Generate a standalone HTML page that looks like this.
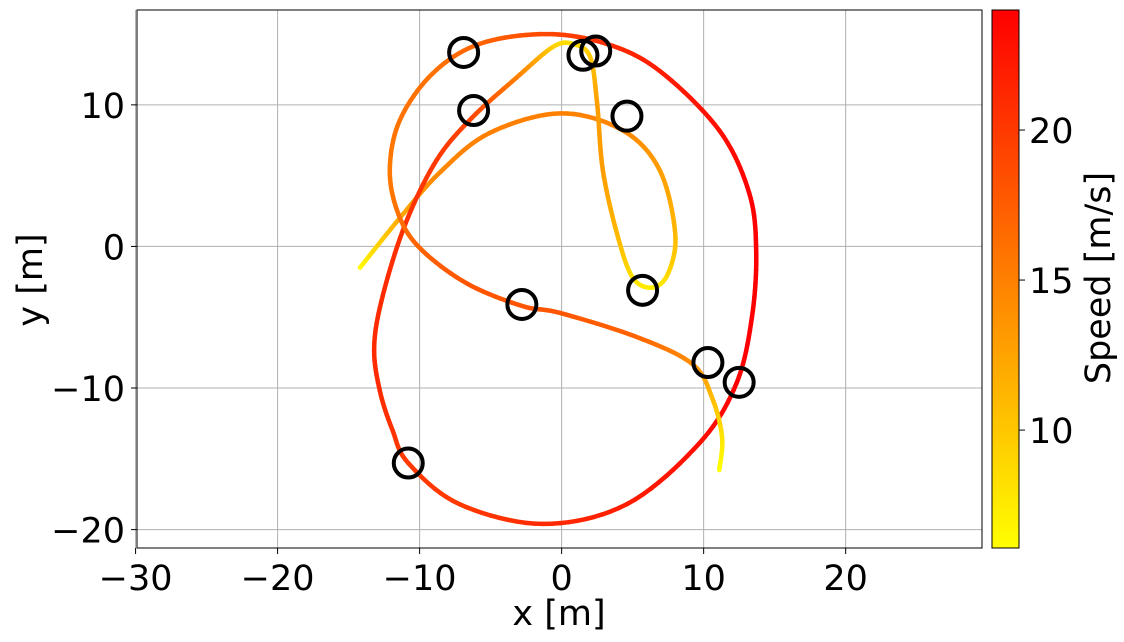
<!DOCTYPE html>
<html><head><meta charset="utf-8"><style>
html,body{margin:0;padding:0;background:#fff;}
svg{display:block;font-family:"DejaVu Sans","Liberation Sans",sans-serif;}
</style></head><body>
<svg id="chart" width="1124" height="642" viewBox="0 0 1124 642" xmlns="http://www.w3.org/2000/svg">
<defs><linearGradient id="cbg" x1="0" y1="1" x2="0" y2="0"><stop offset="0" stop-color="#ffff00"/><stop offset="1" stop-color="#ff0000"/></linearGradient></defs>
<g id="grid"></g>
<g id="paths"></g>
<g id="obst"></g>
<rect x="137" y="10" width="845" height="538" fill="none" stroke="#000" stroke-width="1"/>
<g id="axes"></g>
<text x="559" y="625" font-size="35" text-anchor="middle">x [m]</text>
<text transform="translate(42,280) rotate(-90)" font-size="35" text-anchor="middle">y [m]</text>
<rect x="992" y="10" width="27" height="538" fill="url(#cbg)" stroke="#000" stroke-width="1"/>
<g id="cbticks"></g>
<text transform="translate(1110,278) rotate(-90)" font-size="35" text-anchor="middle">Speed [m/s]</text>
</svg>
<script>
const xTicks=[-30,-20,-10,0,10,20];
const yTicks=[-20,-10,0,10];
const cbTicks=[10,15,20];
const pathX=[-14.2,-11.4,-8.6,-5.1,-0.1,4.3,6.9,8.0,7.5,6.4,5.0,3.9,2.9,2.5,2.0,0.8,-0.6,-3.2,-6.3,-8.8,-11.0,-12.6,-13.2,-12.8,-11.9,-10.8,-7.2,-1.3,4.6,9.7,12.3,13.4,13.7,13.2,11.1,6.9,3.2,-1.1,-5.8,-9.1,-11.4,-12.1,-11.5,-10.0,-6.7,-2.8,-0.1,5.3,9.2,10.6,11.3,11.1];
const pathY=[-1.5,2.0,5.2,8.0,9.4,8.2,5.4,0.9,-1.9,-2.9,-2.2,0.9,5.4,10.1,13.4,14.3,14.1,11.9,9.1,6.1,1.6,-3.5,-7.1,-10.2,-13.0,-15.3,-18.2,-19.6,-18.2,-13.9,-9.7,-5.0,-0.3,3.8,8.2,12.4,14.3,15.0,14.3,12.2,8.9,5.4,2.3,-0.1,-2.6,-4.2,-4.7,-6.4,-8.3,-10.7,-13.5,-15.8];
const pathSpeed=[6,12,14.5,15,15,14.5,13,11,9,7,8,11,13,13,10,8,9,15,19,20,20.5,21,21,21,20.5,20,20,21,22,23,24,24,24,24,23,22,21,19,17,16,16,15.5,16,17,18,18,18,17,14,11,8,6];
const obsX=[-6.9,1.5,2.4,-6.2,4.6,5.7,-2.8,10.3,12.5,-10.8];
const obsY=[13.7,13.5,13.8,9.6,9.2,-3.1,-4.1,-8.2,-9.6,-15.3];
const NS="http://www.w3.org/2000/svg";
const X0=137,X1=982,Y0=10,Y1=548;
const xmin=-29.9,xmax=29.6,ymin=-21.3,ymax=16.7,smin=6.07,smax=24.0;
const sx=v=>X0+(v-xmin)/(xmax-xmin)*(X1-X0);
const sy=v=>Y1-(v-ymin)/(ymax-ymin)*(Y1-Y0);
const sc=v=>Y1-(v-smin)/(smax-smin)*(Y1-Y0);
function mk(tag,attrs,parent){const e=document.createElementNS(NS,tag);for(const k in attrs)e.setAttribute(k,attrs[k]);parent.appendChild(e);return e;}
const grid=document.getElementById('grid'),axes=document.getElementById('axes');
xTicks.forEach(t=>{const x=sx(t);
 const g=mk('line',{x1:x,x2:x,y1:Y0,y2:Y1,stroke:'#b0b0b0','stroke-width':1},grid);
 
 const tk=mk('line',{x1:x,x2:x,y1:Y1,y2:Y1+6,stroke:'#000','stroke-width':1},axes);
 
 const lb=mk('text',{x:x,y:Y1+42,'font-size':35,'text-anchor':'middle'},axes);
 lb.textContent=(t<0?'\u2212'+(-t):t);
 });
yTicks.forEach(t=>{const y=sy(t);
 const g=mk('line',{x1:X0,x2:X1,y1:y,y2:y,stroke:'#b0b0b0','stroke-width':1},grid);
 
 const tk=mk('line',{x1:X0-6,x2:X0,y1:y,y2:y,stroke:'#000','stroke-width':1},axes);
 
 const lb=mk('text',{x:X0-12,y:y+13,'font-size':35,'text-anchor':'end'},axes);
 lb.textContent=(t<0?'\u2212'+(-t):t);
 });
const cb=document.getElementById('cbticks');
cbTicks.forEach(t=>{const y=sc(t);
 const tk=mk('line',{x1:1019,x2:1025,y1:y,y2:y,stroke:'#000','stroke-width':1},cb);
 
 const lb=mk('text',{x:1029,y:y+13,'font-size':35},cb);
 lb.textContent=t;
 });
function col(s){let t=(s-smin)/(smax-smin);t=Math.max(0,Math.min(1,t));return 'rgb(255,'+Math.round(255*(1-t))+',0)';}
const P=pathX.map((x,i)=>[sx(x),sy(pathY[i]),pathSpeed[i]]);
const paths=document.getElementById('paths');
const N=P.length;
for(let i=0;i<N-1;i++){
 const p0=P[Math.max(0,i-1)],p1=P[i],p2=P[i+1],p3=P[Math.min(N-1,i+2)];
 const steps=10;let prev=[p1[0],p1[1]];
 for(let k=1;k<=steps;k++){const t=k/steps,t2=t*t,t3=t2*t;
  const f=(a,b,c,d)=>0.5*((2*b)+(-a+c)*t+(2*a-5*b+4*c-d)*t2+(-a+3*b-3*c+d)*t3);
  const q=[f(p0[0],p1[0],p2[0],p3[0]),f(p0[1],p1[1],p2[1],p3[1])];
  const s=p1[2]+(p2[2]-p1[2])*(t-0.5/steps);
  const seg=mk('line',{x1:prev[0],y1:prev[1],x2:q[0],y2:q[1],stroke:col(s),'stroke-width':4.5,'stroke-linecap':'round'},paths);
  
  prev=q;}
}
const ob=document.getElementById('obst');
obsX.forEach((x,i)=>{const c=mk('circle',{cx:sx(x),cy:sy(obsY[i]),r:14.5,fill:'none',stroke:'#000','stroke-width':4},ob);
 });
</script>
</body></html>
